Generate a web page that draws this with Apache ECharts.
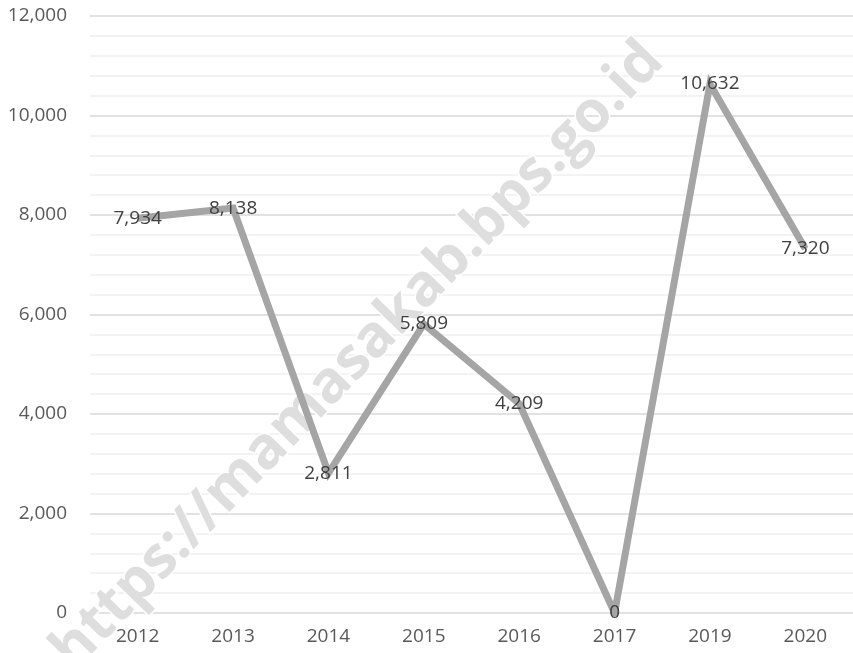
<!DOCTYPE html>
<html>
<head>
<meta charset="utf-8">
<script src="https://cdn.jsdelivr.net/npm/echarts@6/dist/echarts.min.js"></script>
<style>
  html, body { margin: 0; padding: 0; background: #fff; }
  #main { width: 853px; height: 653px; }
</style>
</head>
<body>
<div id="main"></div>
<script>
  // data
  var years = ['2012', '2013', '2014', '2015', '2016', '2017', '2019', '2020'];
  var values = [7934, 8138, 2811, 5809, 4209, 0, 10632, 7320];
  var yTicks = [0, 2000, 4000, 6000, 8000, 10000, 12000];

  var fmt = function (v) {
    return String(v).replace(/\B(?=(\d{3})+(?!\d))/g, ',');
  };

  var myChart = echarts.init(document.getElementById('main'));
  myChart.setOption({
    animation: false,
    textStyle: { fontFamily: 'Open Sans' },
    grid: { left: 90, right: 0, top: 16, bottom: 40 },
    xAxis: {
      type: 'category',
      data: years,
      boundaryGap: true,
      axisLine: { show: false },
      axisTick: { show: false },
      axisLabel: { color: '#595959', fontSize: 19, margin: 14 }
    },
    yAxis: {
      type: 'value',
      min: yTicks[0],
      max: yTicks[yTicks.length - 1],
      interval: 2000,
      axisLine: { show: false },
      axisTick: { show: false },
      axisLabel: { color: '#595959', fontSize: 19, margin: 23, formatter: fmt },
      splitLine: { lineStyle: { color: '#d9d9d9', width: 1.5 } },
      minorTick: { show: false, splitNumber: 5 },
      minorSplitLine: { show: true, lineStyle: { color: '#f0f0f0', width: 1.5 } }
    },
    graphic: [{
      type: 'text',
      z: 1,
      x: 358,
      y: 356,
      rotation: 0.8,
      style: {
        text: 'https://mamasakab.bps.go.id',
        font: 'bold 58px "Open Sans"',
        fill: '#dedede',
        stroke: '#ffffff',
        lineWidth: 3,
        align: 'center',
        verticalAlign: 'middle'
      }
    }],
    series: [{
      type: 'line',
      data: values,
      z: 3,
      symbol: 'circle',
      symbolSize: 1,
      showSymbol: true,
      itemStyle: { color: 'rgba(0,0,0,0)' },
      lineStyle: { color: '#a5a5a5', width: 7, join: 'miter' },
      label: {
        show: true,
        position: 'inside',
        color: '#404040',
        fontSize: 19,
        formatter: function (p) { return fmt(p.value); }
      }
    }]
  });
</script>
</body>
</html>
